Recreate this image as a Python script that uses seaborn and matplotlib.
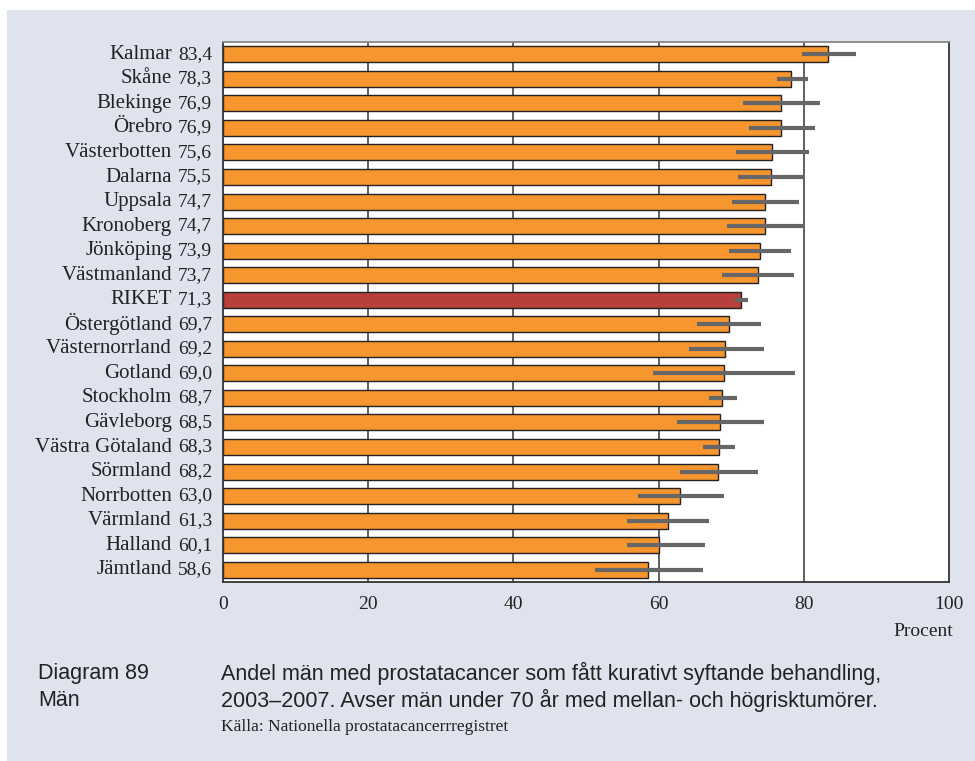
import matplotlib
matplotlib.use("Agg")
import matplotlib.pyplot as plt
import matplotlib.patches as mpatches
import matplotlib.transforms as mtransforms
import seaborn as sns
import pandas as pd

regions = ["Kalmar", "Skåne", "Blekinge", "Örebro", "Västerbotten", "Dalarna",
           "Uppsala", "Kronoberg", "Jönköping", "Västmanland", "RIKET",
           "Östergötland", "Västernorrland", "Gotland", "Stockholm", "Gävleborg",
           "Västra Götaland", "Sörmland", "Norrbotten", "Värmland", "Halland",
           "Jämtland"]
values = [83.4, 78.3, 76.9, 76.9, 75.6, 75.5, 74.7, 74.7, 73.9, 73.7, 71.3,
          69.7, 69.2, 69.0, 68.7, 68.5, 68.3, 68.2, 63.0, 61.3, 60.1, 58.6]
ci_low = [79.8, 76.3, 71.6, 72.5, 70.7, 70.9, 70.1, 69.4, 69.7, 68.7, 70.5,
          65.3, 64.2, 59.2, 66.9, 62.5, 66.1, 62.9, 57.2, 55.6, 55.6, 51.2]
ci_high = [87.2, 80.6, 82.2, 81.5, 80.7, 80.1, 79.3, 80.0, 78.2, 78.6, 72.3,
           74.1, 74.5, 78.8, 70.8, 74.5, 70.5, 73.7, 69.0, 66.9, 66.4, 66.1]
x_ticks = [0, 20, 40, 60, 80, 100]

ORANGE = "#F7952F"
RED = "#B8403A"
BG = "#DFE3EE"
TXT = "#222222"

df = pd.DataFrame({"region": regions, "value": values,
                   "group": ["riket" if r == "RIKET" else "lan" for r in regions]})

sns.set_theme(style="white")
plt.rcParams["font.family"] = ["Liberation Serif", "DejaVu Serif"]

fig = plt.figure(figsize=(9.75, 7.61), dpi=100)
fig.patch.set_facecolor("white")
fig.patches.append(mpatches.Rectangle((7 / 975, 0), 1, 1 - 10 / 761,
                                      transform=fig.transFigure,
                                      facecolor=BG, edgecolor="none", zorder=-10))

ax = fig.add_axes([223 / 975, 1 - 582 / 761, 726 / 975, 540 / 761])
ax.set_facecolor("white")

sns.barplot(data=df, x="value", y="region", hue="group",
            palette={"lan": ORANGE, "riket": RED}, orient="h", saturation=1,
            width=0.65, dodge=False, legend=False, ax=ax,
            edgecolor="#222222", linewidth=1.0, zorder=2)

ypos = list(range(len(regions)))
ax.hlines(ypos, ci_low, ci_high, colors="#666666", linewidth=3.0, zorder=3)

for g in [20, 40, 60, 80]:
    ax.axvline(g, color="#444444", linewidth=1.2, zorder=0)

ax.set_xlim(0, 100)
ax.set_ylim(len(regions) - 0.5, -0.5)
ax.set_xticks(x_ticks)
ax.set_xticklabels([str(t) for t in x_ticks], fontsize=14, color=TXT)
ax.tick_params(axis="x", length=0, pad=10)
ax.set_yticks([])
ax.set_xlabel("")
ax.set_ylabel("")

for side in ["left", "bottom", "right"]:
    ax.spines[side].set_color("#333333")
    ax.spines[side].set_linewidth(1.3)
ax.spines["top"].set_color("#888888")
ax.spines["top"].set_linewidth(1.3)

trans = mtransforms.blended_transform_factory(ax.transAxes, ax.transData)
for i, (r, v) in enumerate(zip(regions, values)):
    ax.text(-51 / 726, i, r, transform=trans, ha="right", va="center",
            fontsize=15, color=TXT)
    ax.text(-11 / 726, i, f"{v:.1f}".replace(".", ","), transform=trans,
            ha="right", va="center", fontsize=14, color=TXT)

fig.text(953 / 975, 1 - 632 / 761, "Procent", ha="right", va="center",
         fontsize=14, color=TXT)

sans = ["Liberation Sans", "DejaVu Sans"]
fig.text(38 / 975, 1 - 673 / 761, "Diagram 89", ha="left", va="center",
         fontsize=15.5, family=sans, color=TXT)
fig.text(38 / 975, 1 - 700 / 761, "Män", ha="left", va="center",
         fontsize=15.5, family=sans, color=TXT)
fig.text(221 / 975, 1 - 673 / 761,
         "Andel män med prostatacancer som fått kurativt syftande behandling,",
         ha="left", va="center", fontsize=15.5, family=sans, color=TXT)
fig.text(221 / 975, 1 - 700 / 761,
         "2003–2007. Avser män under 70 år med mellan- och högrisktumörer.",
         ha="left", va="center", fontsize=15.5, family=sans, color=TXT)
fig.text(221 / 975, 1 - 727 / 761, "Källa: Nationella prostatacancerrregistret",
         ha="left", va="center", fontsize=12.5, color=TXT)

fig.savefig("out.png", dpi=100, facecolor=fig.get_facecolor())
